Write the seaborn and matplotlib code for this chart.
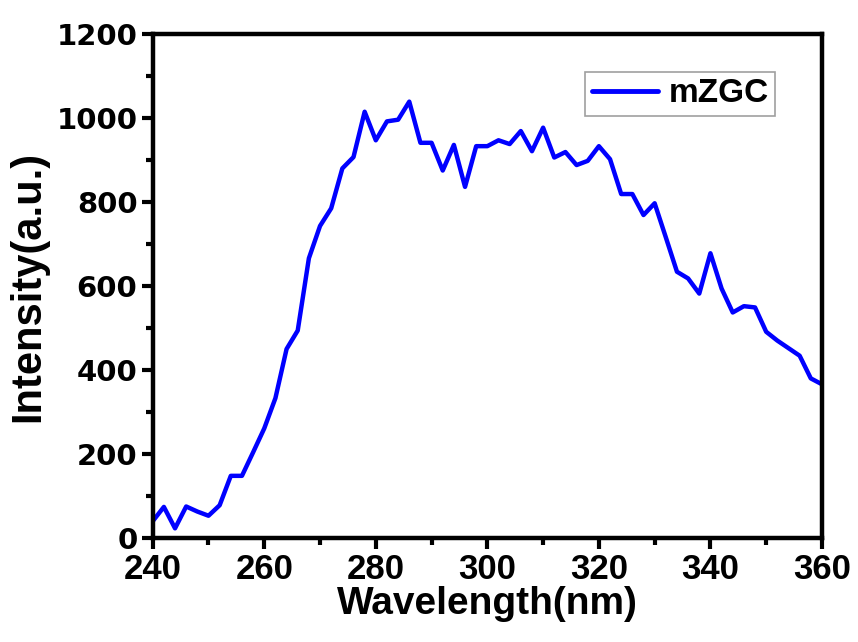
import matplotlib
matplotlib.use("Agg")
import matplotlib.pyplot as plt
import seaborn as sns
import pandas as pd
from matplotlib.ticker import MultipleLocator

wavelength = list(range(240, 362, 2))
intensity = [40, 74, 23, 75, 63, 53, 78, 148, 148, 204, 261, 333, 450, 494, 666, 743,
             785, 880, 907, 1015, 947, 992, 996, 1039, 941, 941, 875, 936, 836, 933,
             933, 947, 938, 969, 921, 977, 906, 919, 888, 898, 933, 902, 819, 819,
             769, 797, 716, 634, 618, 582, 678, 594, 537, 552, 549, 491, 470, 452,
             434, 380, 366]
series_name = "mZGC"

df = pd.DataFrame({"Wavelength": wavelength, "Intensity": intensity, "sample": series_name})

sns.set_style("ticks")
plt.rcParams['font.family'] = ['Liberation Sans', 'DejaVu Sans']
plt.rcParams['font.weight'] = 'bold'
plt.rcParams['text.color'] = 'black'
plt.rcParams['axes.labelcolor'] = 'black'
plt.rcParams['xtick.color'] = 'black'
plt.rcParams['ytick.color'] = 'black'

fig = plt.figure(figsize=(8.58, 6.42), dpi=100)
ax = fig.add_axes([0.178, 0.162, 0.78, 0.785])

sns.lineplot(data=df, x="Wavelength", y="Intensity", hue="sample",
             palette=["#0000ff"], linewidth=3.2, ax=ax)

ax.set_xlim(240, 360)
ax.set_ylim(0, 1200)
ax.xaxis.set_major_locator(MultipleLocator(20))
ax.xaxis.set_minor_locator(MultipleLocator(10))
ax.yaxis.set_major_locator(MultipleLocator(200))
ax.yaxis.set_minor_locator(MultipleLocator(100))

for sp in ax.spines.values():
    sp.set_linewidth(3.2)
    sp.set_color("black")
    sp.set_visible(True)

ax.tick_params(which="major", direction="out", length=8, width=3, colors="black",
               labelcolor="black", top=False, right=False)
ax.tick_params(which="minor", direction="out", length=5, width=3, colors="black",
               top=False, right=False)
ax.tick_params(axis="x", which="major", labelsize=25, pad=3)
ax.tick_params(axis="y", which="major", labelsize=21, pad=3)
for lab in ax.get_yticklabels():
    lab.set_fontfamily(['DejaVu Sans'])
    lab.set_fontweight('bold')
for lab in ax.get_xticklabels():
    lab.set_fontweight('bold')

ax.set_xlabel("Wavelength(nm)", fontsize=28, fontweight="bold", labelpad=0, color="black")
ax.set_ylabel("Intensity(a.u.)", fontsize=30, fontweight="bold", labelpad=6, color="black")

leg = ax.legend(loc="upper right", bbox_to_anchor=(0.93, 0.925), fontsize=24,
                frameon=True, fancybox=False, handlelength=2.0, borderpad=0.2,
                handletextpad=0.3, borderaxespad=0)
leg.get_frame().set_edgecolor("#888888")
leg.get_frame().set_linewidth(1.2)
for t in leg.get_texts():
    t.set_fontweight("bold")
    t.set_color("black")
for h in leg.get_lines():
    h.set_linewidth(3.5)

fig.savefig("out.png", dpi=100, facecolor="white")
